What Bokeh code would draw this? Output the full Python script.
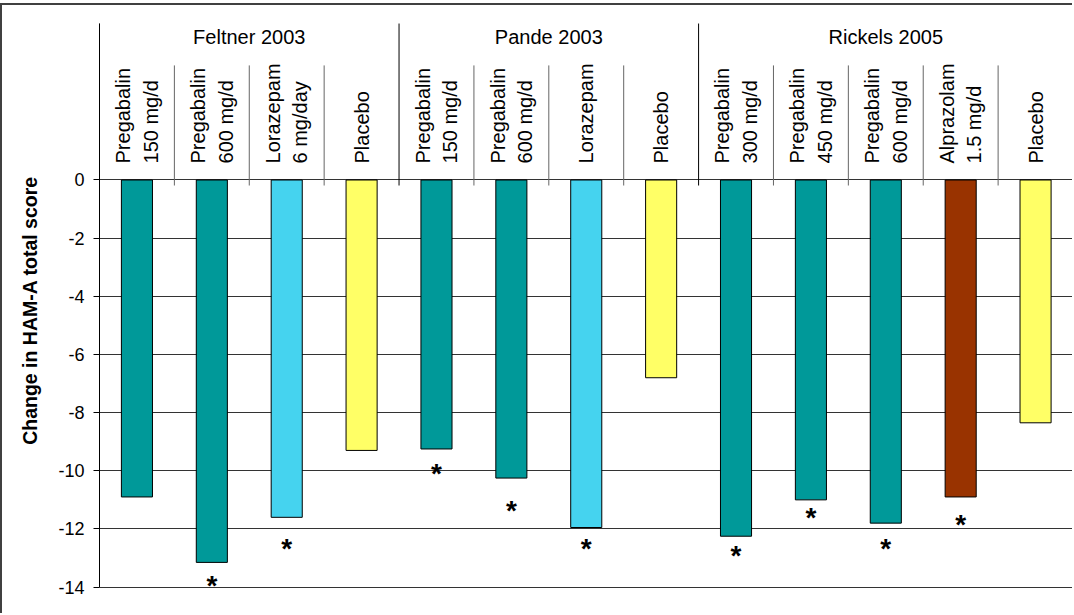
import math
from bokeh.plotting import figure
from bokeh.models import Range1d, FixedTicker, ColumnDataSource
from bokeh.core.properties import value
from bokeh.embed import file_html
from bokeh.resources import INLINE

# Trials and their treatment arms (mean change from baseline in HAM-A total score)
studies = ["Feltner 2003", "Pande 2003", "Rickels 2005"]
arms_per_study = [4, 4, 5]
arms = [
    "Pregabalin\n150 mg/d", "Pregabalin\n600 mg/d", "Lorazepam\n6 mg/day", "Placebo",
    "Pregabalin\n150 mg/d", "Pregabalin\n600 mg/d", "Lorazepam", "Placebo",
    "Pregabalin\n300 mg/d", "Pregabalin\n450 mg/d", "Pregabalin\n600 mg/d",
    "Alprazolam\n1.5 mg/d", "Placebo",
]
drugs = [
    "pregabalin", "pregabalin", "lorazepam", "placebo",
    "pregabalin", "pregabalin", "lorazepam", "placebo",
    "pregabalin", "pregabalin", "pregabalin", "alprazolam", "placebo",
]
change = [-10.9, -13.15, -11.6, -9.3,
          -9.25, -10.25, -11.95, -6.8,
          -12.25, -11.0, -11.8, -10.9, -8.35]
# arms significantly different from placebo, and where their asterisk sits
significant = [False, True, True, False,
               True, True, True, False,
               True, True, True, True, False]
star_y = [-13.8, -12.53, -9.95, -11.22, -12.53, -12.76, -11.46, -12.53, -11.72]

y_ticks = [-14, -12, -10, -8, -6, -4, -2, 0]
y_tick_labels = ["-14", "-12", "-10", "-8", "-6", "-4", "-2", "0"]

drug_colors = {
    "pregabalin": "#009999",
    "lorazepam": "#45D3EF",
    "alprazolam": "#993300",
    "placebo": "#FFFF66",
}

FONT = value("Liberation Sans")

n = len(arms)
xc = [i + 0.5 for i in range(n)]
bars = ColumnDataSource(dict(
    x=xc, top=change, color=[drug_colors[d] for d in drugs], label=arms,
))
star_x = [x for x, s in zip(xc, significant) if s]
stars = ColumnDataSource(dict(x=star_x, y=star_y, t=["*"] * len(star_x)))

p = figure(
    width=1072, height=610,
    x_range=Range1d(0, 13.02), y_range=Range1d(-14.976, 6.0),
    output_backend="svg", toolbar_location=None, tools="",
    min_border_left=97, min_border_right=0, min_border_top=0, min_border_bottom=0,
)
p.styles = {"border-top": "2px solid #404040", "border-left": "2px solid #404040",
            "margin-top": "3px"}
p.outline_line_color = None
p.background_fill_color = "white"
p.border_fill_color = "white"
p.xaxis.visible = False
p.xgrid.visible = False

# value axis
yax = p.yaxis[0]
yax.ticker = FixedTicker(ticks=y_ticks)
yax.major_label_overrides = {t: s for t, s in zip(y_ticks, y_tick_labels)}
yax.bounds = (-14, 5.38)
yax.minor_tick_line_color = None
yax.major_tick_in = 0
yax.major_tick_out = 6
yax.axis_line_color = "black"
yax.major_tick_line_color = "black"
yax.major_label_standoff = 9
yax.major_label_text_font = "Liberation Sans"
yax.major_label_text_font_size = "18px"
yax.major_label_text_color = "black"
yax.axis_label = "Change in HAM-A total score"
yax.axis_label_text_font = "Liberation Sans"
yax.axis_label_text_font_size = "19.5px"
yax.axis_label_text_font_style = "bold"
yax.axis_label_text_color = "black"
yax.axis_label_standoff = 14

p.ygrid.ticker = FixedTicker(ticks=y_ticks)
p.ygrid.grid_line_color = "#333333"
p.ygrid.grid_line_width = 1

# bars
p.vbar(x="x", top="top", bottom=0, width=0.415, source=bars,
       fill_color="color", line_color="black", line_width=1)

# significance markers
p.text(x="x", y="y", text="t", source=stars, text_font=FONT,
       text_font_size="28px", text_font_style="bold", text_color="black",
       text_align="center", text_baseline="middle", y_offset=4)

# header: study boundaries, arm boundaries and labels
bounds = [0]
for k in arms_per_study:
    bounds.append(bounds[-1] + k)
study_x = bounds
p.segment(x0=study_x, y0=[-0.19] * len(study_x), x1=study_x, y1=[5.38] * len(study_x),
          line_color="black", line_width=1)
arm_edges = [i for i in range(1, n) if i not in bounds]
p.segment(x0=arm_edges, y0=[-0.19] * len(arm_edges), x1=arm_edges,
          y1=[3.94] * len(arm_edges), line_color="#666666", line_width=1)

study_centers = [(bounds[i] + bounds[i + 1]) / 2 for i in range(len(studies))]
p.text(x=study_centers, y=[4.93] * len(studies), text=studies, text_font=FONT,
       text_font_size="20px", text_color="black",
       text_align="center", text_baseline="middle")

p.text(x="x", y=0.567, text="label", source=bars, angle=math.pi / 2,
       text_font=FONT, text_font_size="20px", text_color="black",
       text_align="left", text_baseline="middle", text_line_height=1.25)

open("out.html", "w").write(file_html(p, INLINE))
